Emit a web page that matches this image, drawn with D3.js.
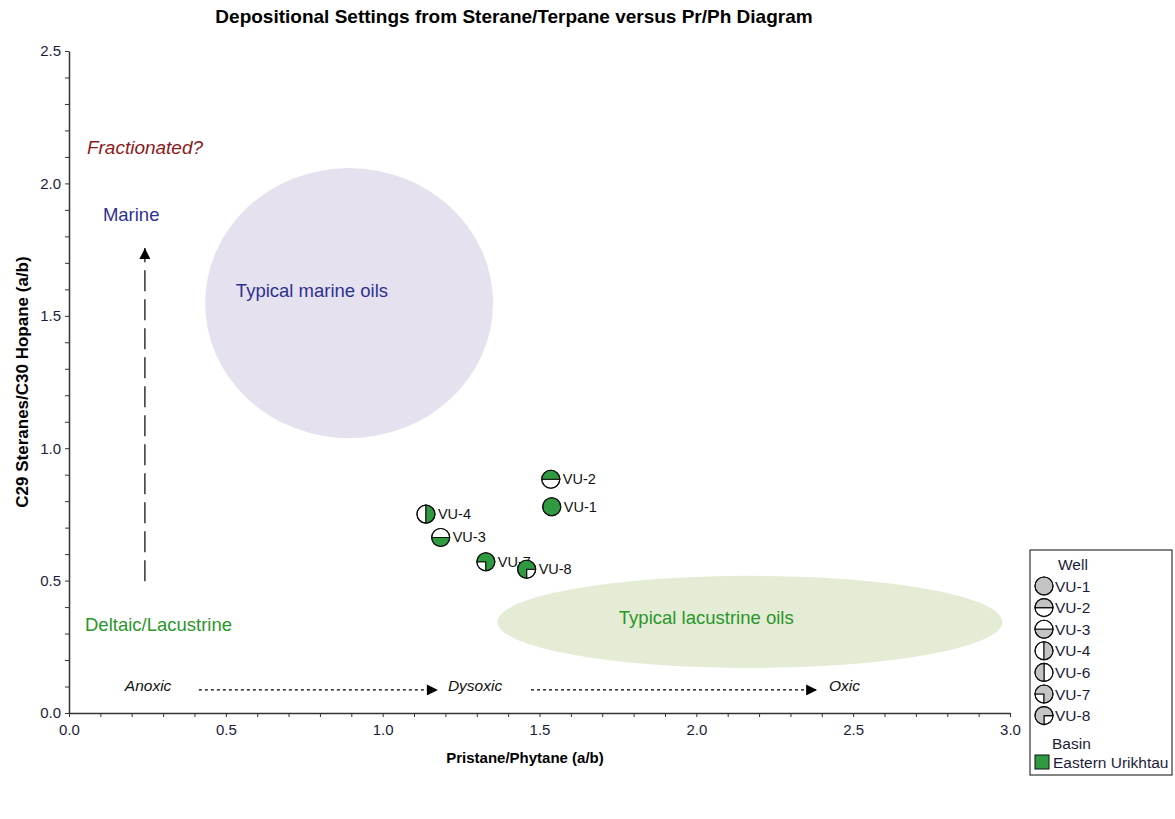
<!DOCTYPE html>
<html>
<head>
<meta charset="utf-8">
<script src="https://cdn.jsdelivr.net/npm/d3@7"></script>
<style>
  body { margin: 0; background: #fff; }
  svg { font-family: "Liberation Sans", Arial, sans-serif; }
</style>
</head>
<body>
<div id="chart"></div>
<script>
// Samples (Eastern Urikhtau basin)
const wells = ['VU-1', 'VU-2', 'VU-3', 'VU-4', 'VU-7', 'VU-8'];
const prPh = [1.539, 1.536, 1.185, 1.138, 1.329, 1.459];
const steraneHopane = [0.779, 0.883, 0.663, 0.751, 0.571, 0.543];

// Legend entries and the symbol pattern of each well
const legendWells = ['VU-1', 'VU-2', 'VU-3', 'VU-4', 'VU-6', 'VU-7', 'VU-8'];
const wellPatterns = ['full', 'top', 'bottom', 'right', 'left', 'noBL', 'noBR'];

// Background fields: centre x, centre y, radius x, radius y (data units)
const regionNames = ['Typical marine oils', 'Typical lacustrine oils'];
const regionCx = [0.893, 2.171];
const regionCy = [1.548, 0.344];
const regionRx = [0.459, 0.805];
const regionRy = [0.51, 0.174];

const xTicks = d3.range(0, 3.01, 0.1);
const yTicks = d3.range(0, 2.51, 0.1);

const basinColor = '#2f9a3f';
const legendGray = '#c4c4c4';

const margin = { top: 51, right: 165, bottom: 106, left: 69 };
const totalW = 1175, totalH = 819;
const width = totalW - margin.left - margin.right;
const height = totalH - margin.top - margin.bottom;

const svg = d3.select('#chart').append('svg')
    .attr('width', totalW)
    .attr('height', totalH);

svg.append('defs').append('marker')
    .attr('id', 'arrowhead')
    .attr('viewBox', '0 0 10 10')
    .attr('refX', 10).attr('refY', 5)
    .attr('markerWidth', 15).attr('markerHeight', 11)
    .attr('markerUnits', 'userSpaceOnUse')
    .attr('orient', 'auto')
    .append('path')
    .attr('d', 'M0,0 L10,5 L0,10 Z')
    .attr('fill', '#000');

// Title
svg.append('text')
    .attr('x', 514)
    .attr('y', 23)
    .attr('text-anchor', 'middle')
    .style('font-size', '19px')
    .style('font-weight', '700')
    .text('Depositional Settings from Sterane/Terpane versus Pr/Ph Diagram');

const g = svg.append('g')
    .attr('transform', `translate(${margin.left},${margin.top})`);

const x = d3.scaleLinear().domain([0, 3]).range([0, width]);
const y = d3.scaleLinear().domain([0, 2.5]).range([height, 0]);

// Regions
const regionColors = ['#e6e1ee', '#e4ecd6'];
g.selectAll('.region')
    .data(regionNames)
    .enter()
    .append('ellipse')
    .attr('class', 'region')
    .attr('cx', (d, i) => x(regionCx[i]))
    .attr('cy', (d, i) => y(regionCy[i]))
    .attr('rx', (d, i) => x(regionRx[i]) - x(0))
    .attr('ry', (d, i) => y(0) - y(regionRy[i]))
    .attr('fill', (d, i) => regionColors[i]);

// Annotations
const notes = [
    { text: 'Fractionated?', x: 0.057, y: 2.111, color: '#8b1a1a', italic: true, size: 19 },
    { text: 'Marine', x: 0.108, y: 1.858, color: '#2e3192', size: 18.5 },
    { text: 'Typical marine oils', x: 0.532, y: 1.571, color: '#2e3192', size: 18.5 },
    { text: 'Deltaic/Lacustrine', x: 0.051, y: 0.31, color: '#2a962a', size: 18.5 },
    { text: 'Typical lacustrine oils', x: 1.753, y: 0.336, color: '#2a962a', size: 18.5 },
    { text: 'Anoxic', x: 0.178, y: 0.083, color: '#111', italic: true, size: 15.5 },
    { text: 'Dysoxic', x: 1.208, y: 0.083, color: '#111', italic: true, size: 15.5 },
    { text: 'Oxic', x: 2.423, y: 0.083, color: '#111', italic: true, size: 15.5 }
];
g.selectAll('.note')
    .data(notes)
    .enter()
    .append('text')
    .attr('class', 'note')
    .attr('x', d => x(d.x))
    .attr('y', d => y(d.y))
    .style('font-size', d => d.size + 'px')
    .style('font-style', d => d.italic ? 'italic' : 'normal')
    .style('fill', d => d.color)
    .text(d => d.text);

// Arrows
const arrows = [
    { x1: 0.242, y1: 0.498, x2: 0.242, y2: 1.756, dash: '21,8' },
    { x1: 0.414, y1: 0.087, x2: 1.176, y2: 0.087, dash: '3,3' },
    { x1: 1.473, y1: 0.087, x2: 2.385, y2: 0.087, dash: '3,3' }
];
g.selectAll('.arrow')
    .data(arrows)
    .enter()
    .append('line')
    .attr('class', 'arrow')
    .attr('x1', d => x(d.x1)).attr('y1', d => y(d.y1))
    .attr('x2', d => x(d.x2)).attr('y2', d => y(d.y2))
    .attr('stroke', '#000')
    .attr('stroke-width', 1.2)
    .attr('stroke-dasharray', d => d.dash)
    .attr('marker-end', 'url(#arrowhead)');

// Axes
const xAxis = g.append('g')
    .attr('transform', `translate(0,${height})`)
    .call(d3.axisBottom(x)
        .tickValues(xTicks)
        .tickSizeInner(4).tickSizeOuter(0)
        .tickFormat(d => Math.abs(d * 2 - Math.round(d * 2)) < 1e-6 ? d3.format('.1f')(d) : ''));
const yAxis = g.append('g')
    .call(d3.axisLeft(y)
        .tickValues(yTicks)
        .tickSizeInner(4).tickSizeOuter(0)
        .tickFormat(d => Math.abs(d * 2 - Math.round(d * 2)) < 1e-6 ? d3.format('.1f')(d) : ''));
[xAxis, yAxis].forEach(a => {
    a.select('.domain').attr('stroke', '#333').attr('stroke-width', 1.5);
    a.selectAll('.tick line').attr('stroke', '#333');
    a.selectAll('.tick text').style('font-size', '15px').style('fill', '#1c1c3a')
        .style('font-family', '"Liberation Sans", Arial, sans-serif');
});
xAxis.selectAll('.tick text').attr('dy', '1em').attr('y', 7);
yAxis.selectAll('.tick text').attr('x', -8);

// Axis titles
svg.append('text')
    .attr('x', 525)
    .attr('y', 763)
    .attr('text-anchor', 'middle')
    .style('font-size', '15px')
    .style('font-weight', '700')
    .text('Pristane/Phytane (a/b)');
svg.append('text')
    .attr('transform', `translate(28,${margin.top + height / 2}) rotate(-90)`)
    .attr('text-anchor', 'middle')
    .style('font-size', '17px')
    .style('font-weight', '700')
    .text('C29 Steranes/C30 Hopane (a/b)');

// Well symbols: fill arc range (d3 angles, clockwise from 12 o'clock)
const fillRange = {
    full: [0, 2 * Math.PI],
    top: [-Math.PI / 2, Math.PI / 2],
    bottom: [Math.PI / 2, 3 * Math.PI / 2],
    right: [0, Math.PI],
    left: [Math.PI, 2 * Math.PI],
    noBL: [-Math.PI / 2, Math.PI],
    noBR: [-Math.PI, Math.PI / 2]
};

function drawSymbol(sel, pattern, color, r) {
    const [a0, a1] = fillRange[pattern];
    const arc = d3.arc().innerRadius(0).outerRadius(r);
    sel.append('circle').attr('r', r).attr('fill', '#fff');
    if (pattern !== 'full') {
        sel.append('path')
            .attr('d', arc({ startAngle: a1, endAngle: a0 + 2 * Math.PI }))
            .attr('fill', '#fff').attr('stroke', '#111').attr('stroke-width', 1.1);
    }
    sel.append('path')
        .attr('d', arc({ startAngle: a0, endAngle: a1 }))
        .attr('fill', color).attr('stroke', '#111').attr('stroke-width', 1.1);
    sel.append('circle').attr('r', r)
        .attr('fill', 'none').attr('stroke', '#111').attr('stroke-width', 1.1);
}

// Points
wells.forEach((w, i) => {
    const pt = g.append('g')
        .attr('transform', `translate(${x(prPh[i])},${y(steraneHopane[i])})`);
    drawSymbol(pt, wellPatterns[legendWells.indexOf(w)], basinColor, 9);
    pt.append('text')
        .attr('x', 12).attr('y', 5)
        .style('font-size', '14.5px')
        .style('fill', '#111')
        .text(w);
});

// Legend
const legend = svg.append('g').attr('transform', 'translate(1030,550)');
legend.append('rect')
    .attr('width', 142).attr('height', 225)
    .attr('fill', '#fff').attr('stroke', '#333').attr('stroke-width', 1.2);
legend.append('text')
    .attr('x', 28).attr('y', 20)
    .style('font-size', '15.5px').style('fill', '#1c1c3a')
    .text('Well');
legendWells.forEach((w, i) => {
    const item = legend.append('g')
        .attr('transform', `translate(14,${36 + i * 21.6})`);
    drawSymbol(item, wellPatterns[i], legendGray, 9);
    item.append('text')
        .attr('x', 11).attr('y', 5.5)
        .style('font-size', '15.5px').style('fill', '#1c1c3a')
        .text(w);
});
legend.append('text')
    .attr('x', 22).attr('y', 199)
    .style('font-size', '15.5px').style('fill', '#1c1c3a')
    .text('Basin');
legend.append('rect')
    .attr('x', 5).attr('y', 205)
    .attr('width', 14).attr('height', 14)
    .attr('fill', basinColor).attr('stroke', '#111');
legend.append('text')
    .attr('x', 23).attr('y', 217.5)
    .style('font-size', '15.5px').style('fill', '#1c1c3a')
    .text('Eastern Urikhtau');
</script>
</body>
</html>
